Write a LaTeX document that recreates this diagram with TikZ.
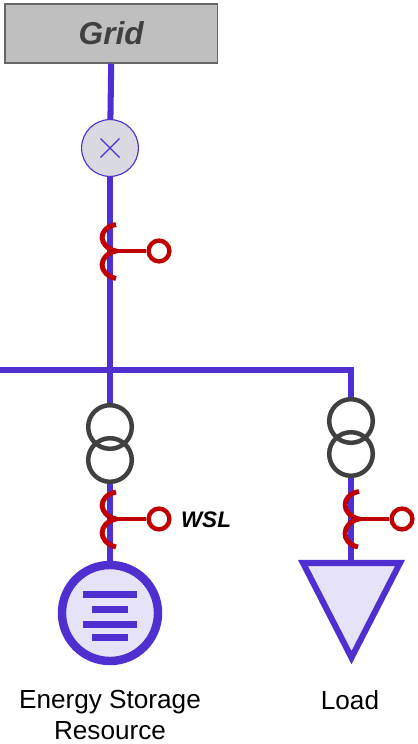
\documentclass[tikz,border=0pt]{standalone}
\usepackage{fontspec}
\setmainfont{Liberation Sans}
\definecolor{busblue}{HTML}{4F2FD0}
\definecolor{relayred}{HTML}{C00000}
\definecolor{iconfill}{HTML}{E6E3F8}
\definecolor{meterfill}{HTML}{D9D9E2}
\definecolor{coilgray}{HTML}{404040}
\tikzset{
  busline/.style={draw=busblue,line width=4.3pt},
  coil/.style={circle,draw=coilgray,line width=3.2pt,minimum size=1.09cm,inner sep=0pt},
  relay/.style={circle,draw=relayred,line width=3.1pt,fill=white,minimum size=0.52cm,inner sep=0pt},
  relayline/.style={draw=relayred,line width=2.9pt},
  relayarc/.style={draw=relayred,line width=3.5pt},
  caption/.style={font=\fontsize{18.6pt}{22.4pt}\selectfont,align=center,text=black,inner sep=0pt},
  barline/.style={draw=busblue,line width=4.3pt}
}
\begin{document}
\begin{tikzpicture}[x=0.025cm,y=-0.025cm]
        \useasboundingbox (0,0) rectangle (418,744);

        % nodes of the feeder
        \node[draw=black!60,fill=black!25,line width=1.2pt,minimum width=5.32cm,minimum height=1.47cm,inner sep=0pt,text=coilgray,font=\fontsize{22.5pt}{26pt}\selectfont\bfseries\itshape] (grid) at (111.2,33.5) {Grid};
        \node[circle,draw=busblue,fill=meterfill,line width=0.8pt,minimum size=1.42cm,inner sep=0pt] (meter) at (110,148) {};
        \node[relay] (relaytop) at (159,251) {};
        \coordinate (jointtop) at (116,251);
        \coordinate (busleft) at (0,370);
        \coordinate (busjoint) at (110,370);
        \coordinate (buscorner) at (351,370);

        % ESR branch
        \node[coil] (coilaa) at (110,427) {};
        \node[coil] (coilab) at (110,460) {};
        \node[relay] (relayesr) at (159,519) {};
        \coordinate (jointesr) at (116,519);
        \node[circle,draw=busblue,fill=iconfill,line width=6pt,minimum size=2.4cm,inner sep=0pt] (esr) at (110,613) {};
        \node[font=\fontsize{16pt}{20pt}\selectfont\bfseries\itshape,text=black] (wsl) at (206,520) {WSL};
        \node[caption] (esrtext) at (110,715) {Energy Storage\\Resource};

        % load branch
        \node[coil] (coilba) at (351,421) {};
        \node[coil] (coilbb) at (351,454) {};
        \node[relay] (relayload) at (402,519) {};
        \coordinate (jointload) at (359,519);
        \coordinate (loadtop) at (351,563);
        \node[caption] (loadtext) at (350,700) {Load};

        % feeder lines
        \draw[busline] (grid.south) -- (meter);
        \draw[busline] (meter) -- (busjoint);
        \draw[busline] (busleft) -- (buscorner) -- (coilba);
        \draw[busline] (busjoint) -- (coilaa);
        \draw[busline] (coilab) -- (esr);
        \draw[busline] (coilbb) -- (loadtop);

        % load triangle
        \draw[draw=busblue,fill=iconfill,line width=4.3pt,miter limit=10] (303,563) -- (400,563) -- (351.5,657.6) -- cycle;

        % meter cross
        \draw[draw=busblue,line width=0.8pt] (100.5,138.5) -- (119.5,157.5);
        \draw[draw=busblue,line width=0.8pt] (100.5,157.5) -- (119.5,138.5);

        % breakers
        \draw[relayarc] (116,224.5) .. controls (97,228) and (98,247) .. (116,251) .. controls (98,255) and (97,274) .. (116,278.5);
        \draw[relayline] (jointtop) -- (relaytop);
        \draw[relayarc] (116,492) .. controls (97,496) and (98,515) .. (116,519) .. controls (98,523) and (97,542) .. (116,547);
        \draw[relayline] (jointesr) -- (relayesr);
        \draw[relayarc] (359,491.5) .. controls (340,495) and (341,515) .. (359,519) .. controls (341,523) and (340,543) .. (358,547);
        \draw[relayline] (jointload) -- (relayload);

        % storage bars
        \draw[barline] (83,594.5) -- (137,594.5);
        \draw[barline] (92,609.5) -- (128,609.5);
        \draw[barline] (83,624.5) -- (137,624.5);
        \draw[barline] (92,637.5) -- (128,637.5);

      \end{tikzpicture}
\end{document}
